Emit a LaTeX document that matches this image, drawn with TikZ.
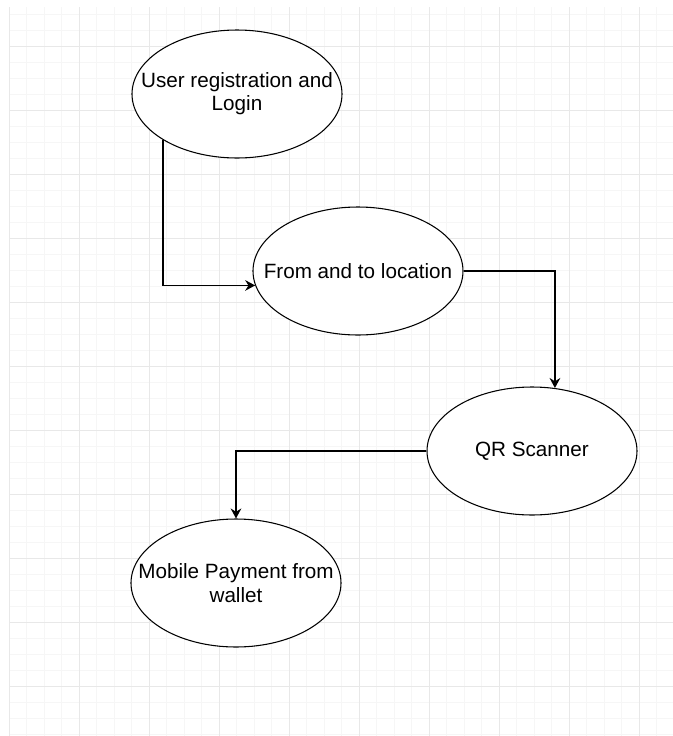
\documentclass[tikz,border=0pt]{standalone}
\usepackage{fontspec}
\setmainfont{Liberation Sans}
\usetikzlibrary{shapes.geometric,arrows.meta}

\definecolor{gridminor}{RGB}{246,246,246}
\definecolor{gridmajor}{RGB}{232,232,232}

\begin{document}
\begin{tikzpicture}[x=0.75pt,y=-0.75pt,
    usecase/.style={draw, ellipse, line width=0.8pt, fill=white, minimum width=157.5pt, minimum height=96pt, inner xsep=-20pt, inner ysep=0pt, align=center, font=\fontsize{15.5}{18}\selectfont},
    flow/.style={line width=1.1pt, -{Stealth[length=7.5pt,width=8pt,inset=2.5pt]}},
    minorline/.style={gridminor, line width=0.75pt},
    majorline/.style={gridmajor, line width=0.75pt}]
        \useasboundingbox[fill=white] (0,0) rectangle (673,736);
        % background grid
        \foreach \gx in {26.5,44,...,673} \draw[minorline] (\gx,7) -- (\gx,736);
        \foreach \gy in {14,30,...,736} \draw[minorline] (9,\gy) -- (673,\gy);
        \foreach \gx in {9,79,...,673} \draw[majorline] (\gx,7) -- (\gx,736);
        \foreach \gy in {46,110,...,736} \draw[majorline] (9,\gy) -- (673,\gy);
        % use cases
        \node[usecase] (reg) at (237,94) {\raisebox{-3pt}{\shortstack{User registration and\\Login}}};
        \node[usecase] (loc) at (358,271) {From and to location};
        \node[usecase] (qr) at (532,451) {QR Scanner};
        \node[usecase] (pay) at (236,583) {\raisebox{-2pt}{\shortstack{Mobile Payment from\\wallet}}};
        % flow
        \draw[flow] (reg.212) |- (loc.188.6);
        \draw[flow] (loc.east) -| (qr.70.3);
        \draw[flow] (qr.west) -| (pay.north);
    \end{tikzpicture}
\end{document}
